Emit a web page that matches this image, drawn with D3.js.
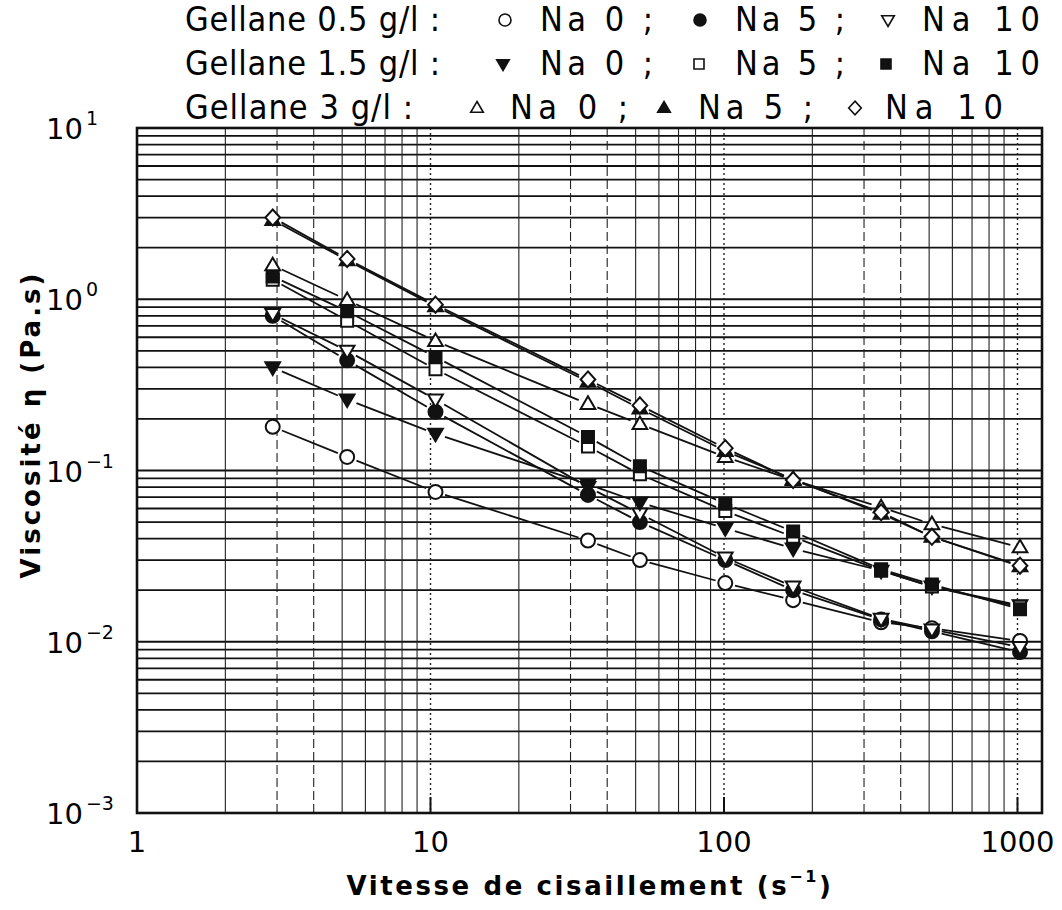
<!DOCTYPE html>
<html>
<head>
<meta charset="utf-8">
<script src="https://cdn.jsdelivr.net/npm/d3@7"></script>
<style>
  body { margin: 0; background: #fff; }
  svg { display: block; }
</style>
</head>
<body>
<svg id="chart" width="1062" height="910"></svg>
<script>
// shear rates (s^-1) shared by every series
const shearRates = [2.9, 5.2, 10.4, 34.4, 51.7, 101, 172, 343, 511, 1020];

// viscosities (Pa.s)
const g05Na0  = [0.18, 0.12, 0.075, 0.039, 0.030, 0.022, 0.0175, 0.013, 0.012, 0.0101];
const g05Na5  = [0.80, 0.44, 0.22, 0.072, 0.050, 0.030, 0.020, 0.0135, 0.0115, 0.0087];
const g05Na10 = [0.82, 0.50, 0.26, 0.080, 0.056, 0.031, 0.021, 0.0136, 0.0118, 0.0093];
const g15Na0  = [0.40, 0.26, 0.164, 0.083, 0.065, 0.046, 0.035, 0.026, 0.021, 0.0163];
const g15Na5  = [1.30, 0.75, 0.39, 0.138, 0.095, 0.058, 0.041, 0.026, 0.021, 0.0160];
const g15Na10 = [1.36, 0.85, 0.46, 0.157, 0.106, 0.064, 0.044, 0.0265, 0.0216, 0.0155];
const g3Na0   = [1.58, 0.99, 0.57, 0.245, 0.187, 0.12, 0.088, 0.061, 0.0486, 0.0356];
const g3Na5   = [2.9, 1.69, 0.91, 0.33, 0.23, 0.13, 0.089, 0.056, 0.041, 0.0276];
const g3Na10  = [3.0, 1.72, 0.93, 0.34, 0.24, 0.135, 0.088, 0.057, 0.041, 0.0278];

const gellaneLabels = ["Gellane 0.5 g/l :", "Gellane 1.5 g/l :", "Gellane 3 g/l :"];
const naLabels = ["Na 0 ;", "Na 5 ;", "Na 10"];
const xTickValues = [1, 10, 100, 1000];
const yExponents = [1, 0, -1, -2, -3];

// marker per series: shape + filled or not
const series = [
  {values: g05Na0,  shape: "circle",   fill: false},
  {values: g05Na5,  shape: "circle",   fill: true},
  {values: g05Na10, shape: "triDown",  fill: false},
  {values: g15Na0,  shape: "triDown",  fill: true},
  {values: g15Na5,  shape: "square",   fill: false},
  {values: g15Na10, shape: "square",   fill: true},
  {values: g3Na0,   shape: "triUp",    fill: false},
  {values: g3Na5,   shape: "triUp",    fill: true},
  {values: g3Na10,  shape: "diamond",  fill: false}
];

const margin = {top: 128, left: 137, right: 1042, bottom: 813};

const svg = d3.select("#chart");

const x = d3.scaleLog().domain([1, 1212]).range([margin.left, margin.right]);
const y = d3.scaleLog().domain([1e-3, 10]).range([margin.bottom, margin.top]);

// symbol path generator
function symbolPath(shape, s) {
  if (shape === "circle") return d3.symbol(d3.symbolCircle, Math.PI * s * s)();
  if (shape === "square") return d3.symbol(d3.symbolSquare, 4 * s * s)();
  if (shape === "diamond") {
    return `M0,${-s * 1.15}L${s * 1.05},0L0,${s * 1.15}L${-s * 1.05},0Z`;
  }
  const h = s * 1.8, w = s * 1.05;
  if (shape === "triUp") return `M0,${-h * 0.6}L${w},${h * 0.4}L${-w},${h * 0.4}Z`;
  return `M0,${h * 0.6}L${w},${-h * 0.4}L${-w},${-h * 0.4}Z`;
}

// horizontal grid: every 1..9 x 10^k
const yGrid = [];
for (let k = -3; k <= 0; k++) {
  for (let m = 1; m <= 9; m++) yGrid.push(m * Math.pow(10, k));
}
yGrid.push(10);

// vertical grid
const xGrid = [];
for (let k = 0; k <= 2; k++) {
  for (let m = 2; m <= 10; m++) xGrid.push(m * Math.pow(10, k));
}
const mantissa = d => Math.round(d / Math.pow(10, Math.floor(Math.log10(d) + 1e-9)));

const grid = svg.append("g").attr("class", "grid");

grid.selectAll("line.h")
  .data(yGrid)
  .join("line")
  .attr("class", "h")
  .attr("x1", margin.left).attr("x2", margin.right)
  .attr("y1", d => y(d)).attr("y2", d => y(d))
  .attr("stroke", "#111")
  .attr("stroke-width", 1.8);

grid.selectAll("line.v")
  .data(xGrid)
  .join("line")
  .attr("class", "v")
  .attr("x1", d => x(d)).attr("x2", d => x(d))
  .attr("y1", margin.top).attr("y2", margin.bottom)
  .attr("stroke", "#222")
  .attr("stroke-width", d => mantissa(d) === 1 ? 1.4 : 1.1)
  .attr("stroke-dasharray", d => {
    const m = mantissa(d);
    if (m === 1) return "2,3";
    if (m === 3 || m === 4) return "9,4";
    return null;
  });

// short solid ticks at the decades along the bottom
grid.selectAll("line.dec")
  .data([10, 100, 1000])
  .join("line")
  .attr("class", "dec")
  .attr("x1", d => x(d)).attr("x2", d => x(d))
  .attr("y1", margin.bottom - 16).attr("y2", margin.bottom)
  .attr("stroke", "#111")
  .attr("stroke-width", 2);

// frame
svg.append("rect")
  .attr("x", margin.left).attr("y", margin.top)
  .attr("width", margin.right - margin.left)
  .attr("height", margin.bottom - margin.top)
  .attr("fill", "none")
  .attr("stroke", "#111")
  .attr("stroke-width", 2.6);

// connecting segments, trimmed so they stop short of the markers
const gap = 10;
const lines = svg.append("g").attr("class", "lines");
series.forEach(s => {
  const pts = shearRates.map((r, i) => [x(r), y(s.values[i])]);
  for (let i = 0; i < pts.length - 1; i++) {
    const [x0, y0] = pts[i], [x1, y1] = pts[i + 1];
    const len = Math.hypot(x1 - x0, y1 - y0);
    if (len < 2 * gap + 2) continue;
    const ux = (x1 - x0) / len, uy = (y1 - y0) / len;
    lines.append("line")
      .attr("x1", x0 + ux * gap).attr("y1", y0 + uy * gap)
      .attr("x2", x1 - ux * gap).attr("y2", y1 - uy * gap)
      .attr("stroke", "#111")
      .attr("stroke-width", 1.8);
  }
});

// markers
const marks = svg.append("g").attr("class", "marks");
series.forEach(s => {
  marks.selectAll(null)
    .data(shearRates.map((r, i) => [r, s.values[i]]))
    .join("path")
    .attr("transform", d => `translate(${x(d[0])},${y(d[1])})`)
    .attr("d", symbolPath(s.shape, s.shape === "square" ? 6 : 7))
    .attr("fill", s.fill ? "#111" : "#fff")
    .attr("stroke", "#111")
    .attr("stroke-width", 2);
});

// x tick labels
svg.selectAll("text.xt")
  .data(xTickValues)
  .join("text")
  .attr("class", "xt")
  .attr("x", d => x(d))
  .attr("y", 852)
  .attr("text-anchor", "middle")
  .attr("font-family", "DejaVu Sans, sans-serif")
  .attr("font-size", 29)
  .text(d => d);

// y tick labels as 10 with superscript exponent
const yt = svg.selectAll("text.yt")
  .data(yExponents)
  .join("text")
  .attr("class", "yt")
  .attr("x", 46)
  .attr("y", d => y(Math.pow(10, d)) + 11)
  .attr("font-family", "DejaVu Sans, sans-serif")
  .attr("font-size", 29);
yt.append("tspan").text("10");
yt.append("tspan")
  .attr("dy", -14)
  .attr("dx", 3)
  .attr("font-size", 19)
  .text(d => d < 0 ? "\u2212" + Math.abs(d) : d);

// axis titles
const xTitle = svg.append("text")
  .attr("x", 590).attr("y", 895)
  .attr("text-anchor", "middle")
  .attr("font-family", "DejaVu Sans, sans-serif")
  .attr("font-weight", "bold")
  .attr("font-size", 26)
  .attr("letter-spacing", 2.6);
xTitle.append("tspan").text("Vitesse de cisaillement (s");
xTitle.append("tspan").attr("dy", -13).attr("font-size", 16).text("\u22121");
xTitle.append("tspan").attr("dy", 13).text(")");

svg.append("text")
  .attr("transform", "translate(40,426) rotate(-90)")
  .attr("text-anchor", "middle")
  .attr("font-family", "DejaVu Sans, sans-serif")
  .attr("font-weight", "bold")
  .attr("font-size", 26)
  .attr("textLength", 305)
  .attr("lengthAdjust", "spacing")
  .text("Viscosité \u03b7 (Pa.s)");

// legend layout
const legendFont = "Liberation Sans Narrow, DejaVu Sans Condensed, sans-serif";
const rowY = [31, 75, 119];
const labelWidth = [255, 255, 228];
const symX = [[505, 700, 888], [503, 699, 886], [477, 664, 855]];
const naX = [[540, 735, 922], [540, 735, 922], [510, 698, 885]];
const naWidth = [[113, 110, 118], [113, 110, 118], [118, 115, 118]];

const legend = svg.append("g").attr("class", "legend");
gellaneLabels.forEach((lab, r) => {
  legend.append("text")
    .attr("x", 185).attr("y", rowY[r])
    .attr("font-family", legendFont)
    .attr("font-size", 34)
    .attr("textLength", labelWidth[r])
    .attr("lengthAdjust", "spacing")
    .text(lab);
  naLabels.forEach((na, c) => {
    const s = series[r * 3 + c];
    legend.append("path")
      .attr("transform", `translate(${symX[r][c]},${rowY[r] - 11})`)
      .attr("d", symbolPath(s.shape, s.shape === "square" ? 5 : 6))
      .attr("fill", s.fill ? "#111" : "#fff")
      .attr("stroke", "#111")
      .attr("stroke-width", 1.6);
    legend.append("text")
      .attr("x", naX[r][c]).attr("y", rowY[r])
      .attr("font-family", legendFont)
      .attr("font-size", 34)
      .attr("textLength", naWidth[r][c])
      .attr("lengthAdjust", "spacing")
      .text(na);
  });
});
</script>
</body>
</html>
